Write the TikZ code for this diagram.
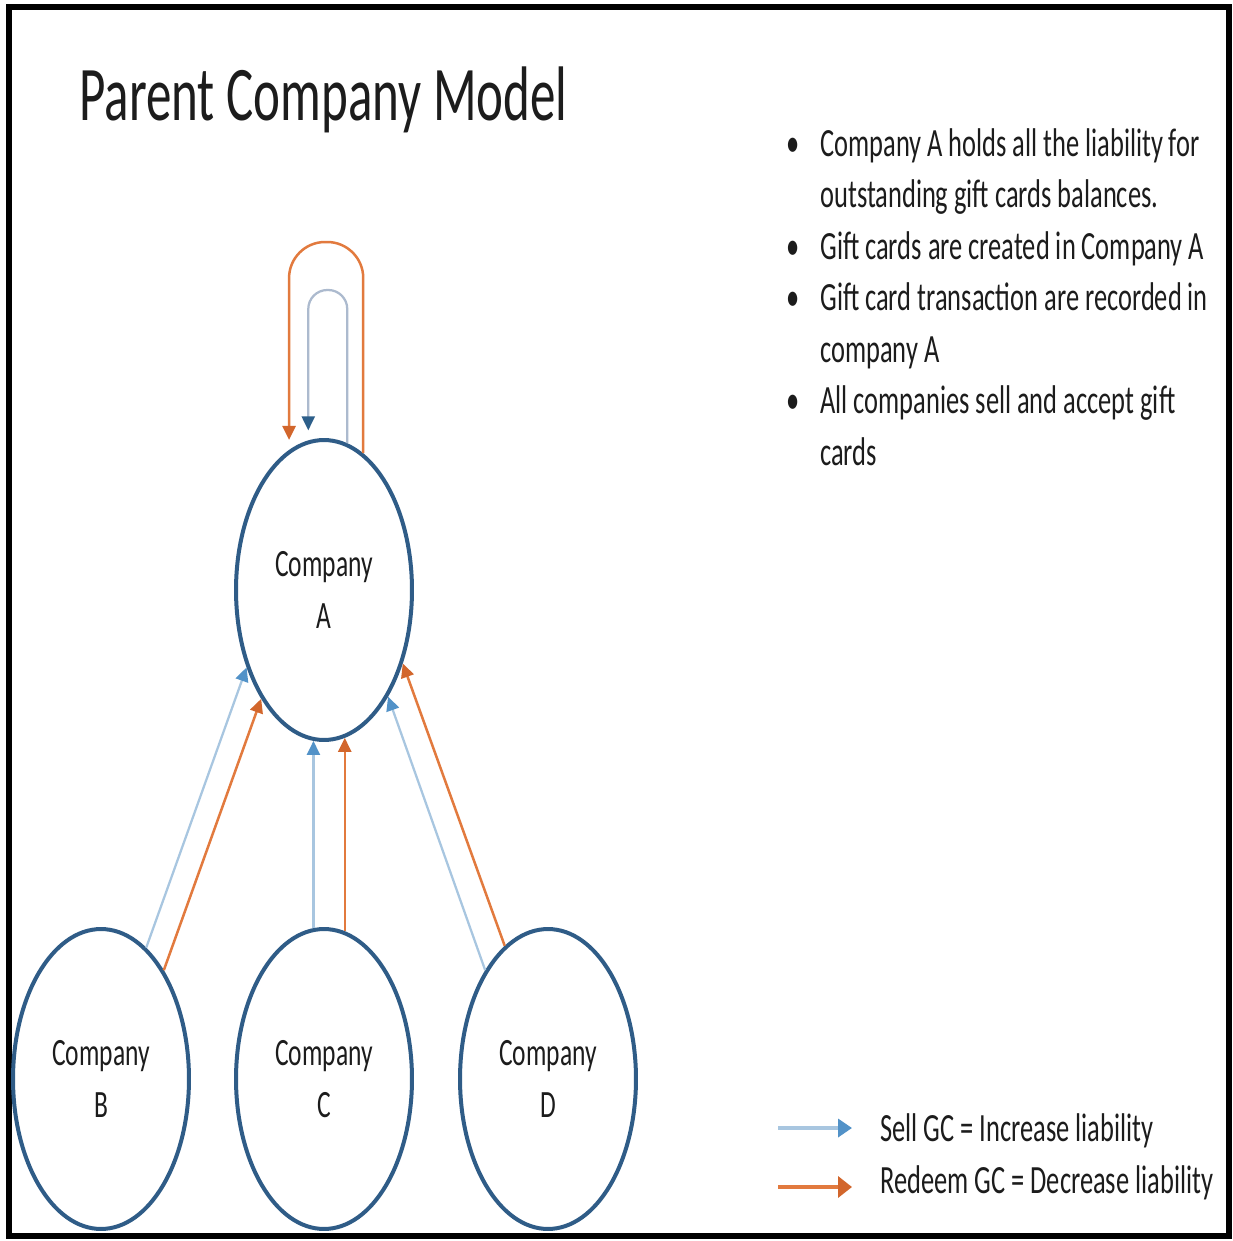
\documentclass[tikz,border=0pt]{standalone}
\usepackage{fontspec}
\setmainfont{Carlito}[FakeStretch=0.66]
\usepackage{xcolor}
\usetikzlibrary{shapes.geometric, arrows.meta, positioning}
\definecolor{ringblue}{RGB}{47, 92, 135}
\definecolor{sellline}{RGB}{168, 198, 224}
\definecolor{sellhead}{RGB}{82, 146, 200}
\definecolor{redeemline}{RGB}{226, 122, 62}
\definecolor{redeemhead}{RGB}{210, 102, 44}
\definecolor{loopline}{RGB}{172, 186, 206}
\definecolor{loophead}{RGB}{45, 95, 138}
\definecolor{textgrey}{RGB}{28, 28, 28}

\begin{document}
\begin{tikzpicture}[x=0.02cm, y=-0.02cm,
  company/.style={ellipse, draw=ringblue, line width=0.08cm, fill=white, minimum width=3.52cm, minimum height=6cm, inner sep=0pt, align=center, text=textgrey, font=\fontsize{22}{30}\selectfont},
  sell/.style={draw=sellline, line width=0.045cm, -{Triangle[length=0.28cm, width=0.26cm, color=sellhead]}},
  redeem/.style={draw=redeemline, line width=0.05cm, -{Triangle[length=0.28cm, width=0.26cm, color=redeemhead]}},
  selfloop/.style={draw=loopline, line width=0.045cm, shorten >=0.2cm, -{Triangle[length=0.28cm, width=0.26cm, color=loophead]}},
  bullettext/.style={anchor=base west, inner sep=0pt, text=textgrey, font=\fontsize{22.8}{29}\selectfont},
  legendtext/.style={anchor=base west, inner sep=0pt, text=textgrey, font=\fontsize{22.8}{29}\selectfont}]

  \useasboundingbox (0,0) rectangle (1232,1241);
  \fill[white] (0,0) rectangle (1232,1241);
  \draw[line width=0.12cm] (9,7) rectangle (1229,1236);

  \node[anchor=base west, inner sep=0pt, text=textgrey, font=\fontsize{44}{50}\selectfont] (title) at (79,120) {Parent Company Model};

  % companies
  \node[company] (A) at (324,590) {Company\\A};
  \node[company] (B) at (101,1079) {Company\\B};
  \node[company] (C) at (324,1079) {Company\\C};
  \node[company] (D) at (548,1079) {Company\\D};

  % flows into company A
  \draw[sell] (B.71) -- (A.225);
  \draw[redeem] (B.60) -- (A.240);
  \draw[sell] (C.94) -- (A.266);
  \draw[redeem] (C.82) -- (A.278);
  \draw[sell] (D.120) -- (A.301);
  \draw[redeem] (D.108) -- (A.317);

  % company A to itself
  \coordinate (loopR) at (324,242);
  \coordinate (loopS) at (324,290);
  \draw[redeem, shorten >=0.2cm, rounded corners=0.72cm] (A.74) -- (A.74 |- loopR) -- (A.104 |- loopR) -- (A.104);
  \draw[selfloop, rounded corners=0.38cm] (A.81) -- (A.81 |- loopS) -- (A.96 |- loopS) -- (A.96);

  % bullets
  \node[bullettext] (it1a) at (820,156) {\llap{\textbullet\hspace{0.42cm}}Company A holds all the liability for};
  \node[bullettext] (it1b) at (820,207.5) {outstanding gift cards balances.};
  \node[bullettext] (it2) at (820,259) {\llap{\textbullet\hspace{0.42cm}}Gift cards are created in Company A};
  \node[bullettext] (it3a) at (820,310.5) {\llap{\textbullet\hspace{0.42cm}}Gift card transaction are recorded in};
  \node[bullettext] (it3b) at (820,362) {company A};
  \node[bullettext] (it4a) at (820,413.5) {\llap{\textbullet\hspace{0.42cm}}All companies sell and accept gift};
  \node[bullettext] (it4b) at (820,465) {cards};

  % legend
  \node[legendtext] (sellTxt) at (880,1141) {Sell GC = Increase liability};
  \node[legendtext] (redeemTxt) at (880,1193) {Redeem GC = Decrease liability};
  \coordinate (sellFrom) at (778,1128);
  \coordinate (redeemFrom) at (778,1187);
  \draw[draw=sellline, line width=0.07cm, shorten >=0.56cm, -{Triangle[length=0.28cm, width=0.36cm, color=sellhead]}] (sellFrom) -- (sellFrom -| sellTxt.west);
  \draw[draw=redeemline, line width=0.08cm, shorten >=0.56cm, -{Triangle[length=0.28cm, width=0.42cm, color=redeemhead]}] (redeemFrom) -- (redeemFrom -| redeemTxt.west);

\end{tikzpicture}
\end{document}
